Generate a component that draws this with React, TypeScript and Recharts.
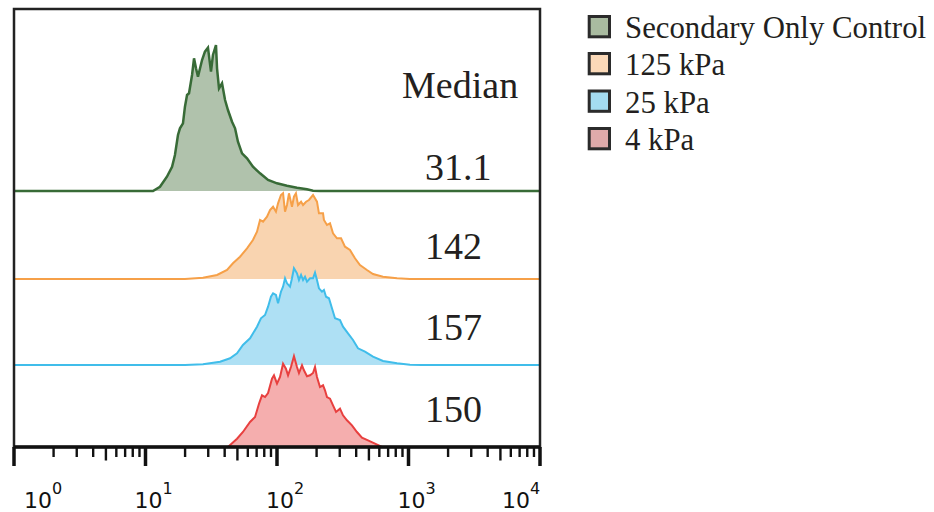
import React from "react"
import { ComposedChart, Area, XAxis, YAxis, ReferenceDot, ReferenceArea, Legend } from "recharts"

// log10 fluorescence intensity and event count (arbitrary units) for each histogram
const controlLog = [0, 1.0, 1.057, 1.11, 1.163, 1.202, 1.224, 1.247, 1.262, 1.285, 1.3, 1.316, 1.331, 1.354, 1.369, 1.384, 1.399, 1.43, 1.452, 1.475, 1.498, 1.513, 1.536, 1.544, 1.559, 1.582, 1.605, 1.627, 1.658, 1.681, 1.703, 1.734, 1.772, 1.817, 1.871, 1.932, 2.0, 2.076, 2.152, 2.228, 2.274, 2.33, 4]
const controlCount = [0, 0, 0, 4.3, 14.3, 24.3, 36, 56, 62.7, 67.7, 84.3, 96, 97.7, 116, 132.7, 122.7, 114.3, 131, 139.3, 143.3, 119.3, 136, 146, 122.7, 102.7, 107.7, 91, 81, 69.3, 62.7, 49.3, 37.7, 32.7, 24.3, 17.7, 11, 7.7, 5.3, 3.3, 1.7, 0.3, 0, 0]

const kpa125Log = [0, 1.3, 1.437, 1.544, 1.62, 1.665, 1.719, 1.772, 1.817, 1.848, 1.871, 1.894, 1.924, 1.947, 1.97, 1.992, 2.008, 2.03, 2.046, 2.061, 2.076, 2.091, 2.114, 2.129, 2.144, 2.16, 2.183, 2.198, 2.221, 2.243, 2.274, 2.304, 2.319, 2.35, 2.357, 2.38, 2.403, 2.426, 2.456, 2.487, 2.517, 2.555, 2.593, 2.631, 2.684, 2.73, 2.806, 2.913, 3.011, 4]
const kpa125Count = [0, 0, 1.3, 4, 9, 15.7, 22.3, 30.7, 39, 47.3, 59, 57.3, 62.3, 69, 72.3, 67.3, 75.7, 84, 85.7, 67.3, 74, 85.7, 72.3, 82.3, 85.7, 74, 77.3, 74, 77.3, 79, 84, 77.3, 65.7, 65.7, 59, 54, 55.7, 45.7, 40.7, 40.7, 32.3, 29, 20.7, 14, 9, 5, 2.3, 0.7, 0, 0]

const kpa25Log = [0, 1.3, 1.437, 1.567, 1.643, 1.696, 1.741, 1.795, 1.848, 1.878, 1.909, 1.932, 1.954, 1.97, 1.992, 2.008, 2.03, 2.046, 2.061, 2.076, 2.099, 2.114, 2.129, 2.152, 2.167, 2.183, 2.198, 2.213, 2.228, 2.251, 2.274, 2.289, 2.304, 2.319, 2.342, 2.357, 2.373, 2.395, 2.418, 2.441, 2.479, 2.502, 2.54, 2.578, 2.616, 2.669, 2.73, 2.806, 2.913, 3.011, 3.1, 4]
const kpa25Count = [0, 0, 0.7, 3.3, 6.7, 11.7, 20, 26.7, 38.3, 46.7, 50, 58.3, 68.3, 71.7, 70, 61.7, 73.3, 78.3, 86.7, 81.7, 78.3, 86.7, 96.7, 91.7, 85, 90, 85, 88.3, 83.3, 86.7, 86.7, 92.3, 85, 76.7, 73.3, 75, 68.3, 66.7, 56.7, 46.7, 45, 38.3, 31.7, 25, 16.7, 13.3, 8.3, 4, 1.7, 0.3, 0, 0]

const kpa4Log = [1.627, 1.696, 1.741, 1.795, 1.833, 1.863, 1.886, 1.909, 1.932, 1.962, 1.977, 2.0, 2.023, 2.046, 2.068, 2.084, 2.106, 2.129, 2.152, 2.167, 2.19, 2.205, 2.228, 2.251, 2.274, 2.289, 2.304, 2.327, 2.35, 2.365, 2.38, 2.403, 2.426, 2.449, 2.479, 2.502, 2.532, 2.57, 2.608, 2.646, 2.692, 2.745, 2.798]
const kpa4Count = [0, 8.3, 15, 25, 30, 43.3, 51.7, 50, 54, 68.3, 71.7, 63.3, 70, 83.3, 78.3, 71.7, 80, 90.7, 80, 74, 81.7, 76.7, 70.7, 71.7, 74, 80, 70, 60, 61.7, 56.7, 50, 48.3, 41.7, 35, 38.3, 31.7, 26.7, 21.7, 15, 9.3, 6.7, 3.3, 0]

const seriesNames = ["Secondary Only Control", "125 kPa", "25 kPa", "4 kPa"]
const medianValues = ["31.1", "142", "157", "150"]
const decades = [0, 1, 2, 3, 4]
const minorSteps = [2, 3, 4, 5, 6, 7, 8, 9]

const SERIF = '"Liberation Serif", "Times New Roman", serif'
const TICK_FONT = '"DejaVu Sans", sans-serif'
const INK = "#231f20"

// vertical offset of each stacked histogram (chart units = px)
const series = [
  { key: "control", log: controlLog, count: controlCount, base: 256, stroke: "#386b37", fill: "#b0c2ac", legend: "#a9bba0", width: 2.5 },
  { key: "k125", log: kpa125Log, count: kpa125Count, base: 168, stroke: "#f6a048", fill: "#f9d4b0", legend: "#fbd9b8", width: 2 },
  { key: "k25", log: kpa25Log, count: kpa25Count, base: 82, stroke: "#40bdea", fill: "#aee0f4", legend: "#a4dcf1", width: 2 },
  { key: "k4", log: kpa4Log, count: kpa4Count, base: 0, stroke: "#e8403f", fill: "#f5aeae", legend: "#dfaaaa", width: 2 },
]

const rowMap = new Map<number, any>()
series.forEach((s) => {
  s.log.forEach((x, i) => {
    const row = rowMap.get(x) ?? { x }
    row[s.key] = s.base + s.count[i]
    rowMap.set(x, row)
  })
})
const chartData = [...rowMap.values()].sort((a, b) => a.x - b.x)

const axisTicks = decades.flatMap((d) => (d < 4 ? [d, ...minorSteps.map((k) => d + Math.log10(k))] : [d]))

// annotation anchors for the median column
const medianX = 3.125
const medianY = [267, 188, 107, 25]

function LogTick({ x, y, payload }: any) {
  const v = payload.value
  const decade = Math.round(v)
  if (Math.abs(v - decade) > 1e-6) {
    const step = Math.round(Math.pow(10, v - Math.floor(v)))
    const len = step === 5 ? 13.5 : 10
    return <line x1={x} x2={x} y1={y} y2={y + len} stroke="#111" strokeWidth={2.4} />
  }
  const dx = decade === 0 ? 10 : decade === 4 ? -38 : -11
  return (
    <g>
      <line x1={x} x2={x} y1={y} y2={y + 19} stroke="#111" strokeWidth={3.5} />
      <text x={x + dx} y={y + 61} fontFamily={TICK_FONT} fontSize={22} fill="#111">
        10
        <tspan dy={-14} fontSize={16}>{decade}</tspan>
      </text>
    </g>
  )
}

const textLabel = (text: string) => (props: any) => {
  const vb = props.viewBox || {}
  return (
    <text x={vb.x} y={vb.y} fontFamily={SERIF} fontSize={38} fill={INK}>
      {text}
    </text>
  )
}

function LegendBox() {
  const rowTop = [15, 52, 89.5, 127]
  return (
    <svg width={354} height={160}>
      {seriesNames.map((name, i) => (
        <g key={name}>
          <rect x={9.2} y={rowTop[i] + 1.5} width={20.3} height={20.3} fill={series[i].legend} stroke="#2b2b2b" strokeWidth={3} />
          <text x={45} y={rowTop[i] + 23.3} fontFamily={SERIF} fontSize={30.8} fill={INK}>
            {name}
          </text>
        </g>
      ))}
    </svg>
  )
}

export default function App() {
  return (
    <div style={{ width: 934, height: 512, position: "relative", background: "#fff" }}>
      <style>{"body{margin:0;background:#fff}"}</style>
      <ComposedChart width={934} height={512} data={chartData} margin={{ top: 9, right: 394, bottom: 0, left: 14 }}>
        <XAxis
          dataKey="x"
          type="number"
          domain={[0, 4]}
          ticks={axisTicks}
          interval={0}
          tick={<LogTick />}
          tickLine={false}
          tickSize={0}
          tickMargin={0}
          height={65}
          axisLine={{ stroke: "#111", strokeWidth: 3.5 }}
          allowDataOverflow
        />
        <YAxis type="number" domain={[0, 438]} hide allowDataOverflow />
        {series.map((s) => (
          <Area
            key={s.key}
            type="linear"
            dataKey={s.key}
            baseValue={s.base}
            stroke={s.stroke}
            strokeWidth={s.width}
            fill={s.fill}
            fillOpacity={1}
            connectNulls
            dot={false}
            activeDot={false}
            isAnimationActive={false}
          />
        ))}
        <ReferenceArea x1={0} x2={4} y1={0} y2={438} fill="none" fillOpacity={0} stroke="#222" strokeWidth={2.5} />
        <ReferenceDot x={2.951} y={349} r={0} fill="none" stroke="none" label={textLabel("Median")} />
        {medianValues.map((m, i) => (
          <ReferenceDot key={m} x={medianX} y={medianY[i]} r={0} fill="none" stroke="none" label={textLabel(m)} />
        ))}
        <Legend
          layout="horizontal"
          verticalAlign="middle"
          align="center"
          wrapperStyle={{ left: 580, top: 0, width: 354, height: 160 }}
          content={() => <LegendBox />}
        />
      </ComposedChart>
    </div>
  )
}
